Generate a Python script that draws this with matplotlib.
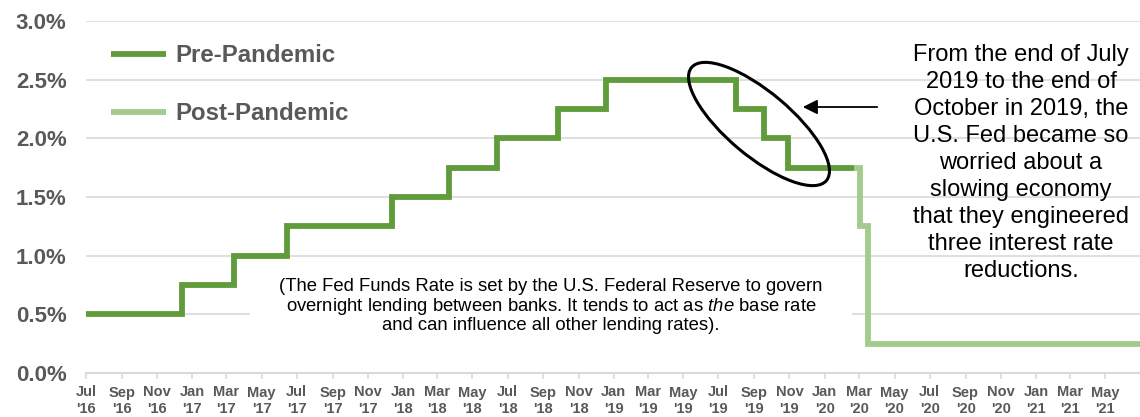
import pandas as pd
import matplotlib
matplotlib.use('Agg')
import matplotlib.pyplot as plt
import matplotlib.dates as mdates
from matplotlib.patches import Ellipse, Rectangle
from matplotlib.transforms import IdentityTransform, blended_transform_factory

plt.rcParams['font.family'] = ['Liberation Sans', 'DejaVu Sans']
plt.rcParams['mathtext.fontset'] = 'custom'
plt.rcParams['mathtext.it'] = 'Liberation Sans:italic'
plt.rcParams['mathtext.rm'] = 'Liberation Sans'

# Fed funds rate (upper target), step changes
pre_dates = ['2016-07-01', '2016-12-14', '2017-03-15', '2017-06-14', '2017-12-13',
             '2018-03-21', '2018-06-13', '2018-09-26', '2018-12-19', '2019-07-31',
             '2019-09-18', '2019-10-30', '2020-02-20']
pre_rates = [0.50, 0.75, 1.00, 1.25, 1.50, 1.75, 2.00, 2.25, 2.50, 2.25, 2.00, 1.75, 1.75]

post_dates = ['2020-02-20', '2020-03-03', '2020-03-16', '2021-07-04']
post_rates = [1.75, 1.25, 0.25, 0.25]

y_ticks = [0.0, 0.5, 1.0, 1.5, 2.0, 2.5, 3.0]

DARK = '#609B3C'
LIGHT = '#A3CB8C'
GRAY = '#595959'
GRID = '#D9D9D9'

fig = plt.figure(figsize=(11.4, 4.17), dpi=100)
ax = fig.add_axes([86 / 1140, 1 - 373 / 417, 1 - 86 / 1140, (373 - 21) / 417])

ax.plot(pd.to_datetime(pre_dates), pre_rates, drawstyle='steps-post', color=DARK,
        lw=4.2, solid_joinstyle='miter', solid_capstyle='butt', label='Pre-Pandemic', zorder=4)
ax.plot(pd.to_datetime(post_dates), post_rates, drawstyle='steps-post', color=LIGHT,
        lw=4.2, solid_joinstyle='miter', solid_capstyle='butt', label='Post-Pandemic', zorder=3)

ax.set_xlim(pd.Timestamp('2016-07-01'), pd.Timestamp('2021-06-30'))
ax.set_ylim(0, 3.0)

ax.set_yticks(y_ticks)
ax.set_yticklabels([f'{v:.1f}%' for v in y_ticks], fontsize=16, fontweight='bold', color=GRAY)
ax.tick_params(axis='y', length=0, pad=14)
ax.grid(axis='y', color=GRID, lw=1.2, zorder=0)
ax.set_axisbelow(True)

ax.xaxis.set_major_locator(mdates.MonthLocator(bymonth=[1, 3, 5, 7, 9, 11]))
ax.xaxis.set_major_formatter(mdates.DateFormatter("%b\n'%y"))
ax.tick_params(axis='x', length=4, color=GRID, width=1.2, pad=5)
for lab in ax.get_xticklabels():
    lab.set_fontsize(10.5)
    lab.set_fontweight('bold')
    lab.set_color(GRAY)

for s in ['top', 'right', 'left']:
    ax.spines[s].set_visible(False)
ax.spines['bottom'].set_color(GRID)
ax.spines['bottom'].set_linewidth(1.5)

leg = ax.legend(loc='upper left', bbox_to_anchor=(0.003, 0.995), frameon=False,
                prop={'weight': 'bold', 'size': 17.3}, labelcolor=GRAY,
                handlelength=2.3, handletextpad=0.4, labelspacing=1.45)

# white box behind the note
tr = blended_transform_factory(ax.transAxes, ax.transData)
ax.add_patch(Rectangle(((250 - 86) / 1054, 0.3), (852 - 250) / 1054, 0.55,
                       transform=tr, facecolor='white', edgecolor='none', zorder=1))

note = ("(The Fed Funds Rate is set by the U.S. Federal Reserve to govern\n"
        "overnight lending between banks. It tends to act as $\\it{the}$ base rate\n"
        "and can influence all other lending rates).")
fig.text(551 / 1140, 1 - 306 / 417, note, ha='center', va='center', fontsize=13.3,
         color='black', linespacing=1.05)

side = ("From the end of July\n2019 to the end of\nOctober in 2019, the\n"
        "U.S. Fed became so\nworried about a\nslowing economy\nthat they engineered\n"
        "three interest rate\nreductions.")
fig.text(1021 / 1140, 1 - 163 / 417, side, ha='center', va='center', fontsize=17,
         color='black', linespacing=1.3)

# arrow and ellipse highlighting the three cuts
ax.annotate('', xy=(800, 417 - 107), xycoords='figure pixels',
            xytext=(880, 417 - 107), textcoords='figure pixels',
            arrowprops=dict(arrowstyle='-|>', mutation_scale=22, lw=1.3, color='black'))
fig.patches.append(Ellipse((759, 417 - 124), 176, 64, angle=-40, transform=IdentityTransform(),
                           facecolor='none', edgecolor='black', lw=2.2, figure=fig))

fig.savefig('out.png', dpi=100)
